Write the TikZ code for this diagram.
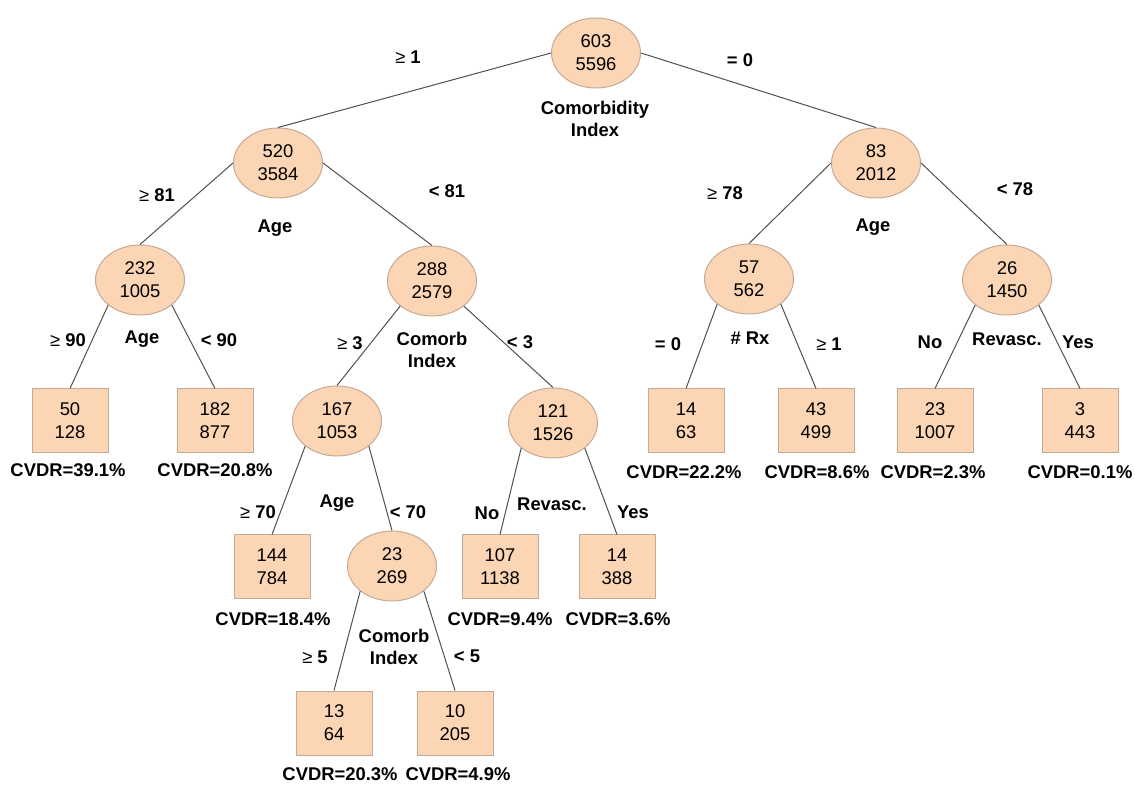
\documentclass[tikz,border=0pt]{standalone}
\usepackage{fontspec}
\setmainfont{Liberation Sans}
\usetikzlibrary{shapes.geometric}
\definecolor{peach}{RGB}{252,213,180}
\definecolor{peachline}{RGB}{196,170,150}
\definecolor{edgegray}{RGB}{80,80,80}
\newcommand{\atleast}{{\mdseries ≥}}
\begin{document}
\begin{tikzpicture}[x=0.5pt,y=-0.5pt,
	split/.style={ellipse, draw=peachline, fill=peach, line width=0.5pt, minimum width=44.5pt, minimum height=35pt, inner sep=0pt, align=center, font=\fontsize{9.2}{11.5}\selectfont},
	leaf/.style={rectangle, draw=peachline, fill=peach, line width=0.5pt, minimum width=38pt, minimum height=32pt, inner sep=0pt, align=center, font=\fontsize{9.2}{11.5}\selectfont},
	lab/.style={inner sep=1pt, align=center, font=\bfseries\fontsize{9.2}{11}\selectfont},
	edge/.style={draw=edgegray, line width=0.5pt}]
	\useasboundingbox (0,0) rectangle (1135,785);
	% root
	\node[split] (n0) at (596,53) {603\\5596};
	\node[lab] (v0) at (595,119) {Comorbidity\\Index};
	\node[lab] (b0l) at (408,57) {\atleast{} 1};
	\node[lab] (b0r) at (740,60) {= 0};
	% level 1
	\node[split] (n1) at (278,163) {520\\3584};
	\node[split] (n2) at (876,163) {83\\2012};
	\node[lab] (v1) at (275,228) {Age};
	\node[lab] (v2) at (873,227) {Age};
	\node[lab] (b1l) at (157,195) {\atleast{} 81};
	\node[lab] (b1r) at (447,191) {< 81};
	\node[lab] (b2l) at (725,193) {\atleast{} 78};
	\node[lab] (b2r) at (1015,189) {< 78};
	% level 2
	\node[split] (n3) at (140,280) {232\\1005};
	\node[split] (n4) at (432,281) {288\\2579};
	\node[split] (n5) at (749,279) {57\\562};
	\node[split] (n6) at (1007,280) {26\\1450};
	\node[lab] (v3) at (142,339) {Age};
	\node[lab] (b3l) at (68,340) {\atleast{} 90};
	\node[lab] (b3r) at (219,340) {< 90};
	\node[lab] (v4) at (432,350) {Comorb\\Index};
	\node[lab] (b4l) at (350,343) {\atleast{} 3};
	\node[lab] (b4r) at (520,342) {< 3};
	\node[lab] (v5) at (750,338) {\# Rx};
	\node[lab] (b5l) at (668,344) {= 0};
	\node[lab] (b5r) at (829,344) {\atleast{} 1};
	\node[lab] (v6) at (1007,339) {Revasc.};
	\node[lab] (b6l) at (930,342) {No};
	\node[lab] (b6r) at (1078,342) {Yes};
	% level 3
	\node[leaf] (t1) at (70,421) {50\\128};
	\node[leaf] (t2) at (215,421) {182\\877};
	\node[split] (n7) at (337,421) {167\\1053};
	\node[split] (n8) at (553,423) {121\\1526};
	\node[leaf] (t3) at (686,421) {14\\63};
	\node[leaf] (t4) at (816,421) {43\\499};
	\node[leaf] (t5) at (935,421) {23\\1007};
	\node[leaf] (t6) at (1080,421) {3\\443};
	\node[lab] (r1) at (68,470) {CVDR=39.1\%};
	\node[lab] (r2) at (215,470) {CVDR=20.8\%};
	\node[lab] (r3) at (684,472) {CVDR=22.2\%};
	\node[lab] (r4) at (817,472) {CVDR=8.6\%};
	\node[lab] (r5) at (933,472) {CVDR=2.3\%};
	\node[lab] (r6) at (1080,472) {CVDR=0.1\%};
	% level 4
	\node[lab] (v7) at (337,503) {Age};
	\node[lab] (b7l) at (258,512) {\atleast{} 70};
	\node[lab] (b7r) at (408,512) {< 70};
	\node[lab] (v8) at (552,504) {Revasc.};
	\node[lab] (b8l) at (487,513) {No};
	\node[lab] (b8r) at (633,512) {Yes};
	\node[leaf] (t7) at (272,567) {144\\784};
	\node[split] (n9) at (392,566) {23\\269};
	\node[leaf] (t8) at (500,567) {107\\1138};
	\node[leaf] (t9) at (617,567) {14\\388};
	\node[lab] (r7) at (273,619) {CVDR=18.4\%};
	\node[lab] (r8) at (500,619) {CVDR=9.4\%};
	\node[lab] (r9) at (618,619) {CVDR=3.6\%};
	% level 5
	\node[lab] (v9) at (394,647) {Comorb\\Index};
	\node[lab] (b9l) at (315,657) {\atleast{} 5};
	\node[lab] (b9r) at (467,656) {< 5};
	\node[leaf] (t10) at (334,723) {13\\64};
	\node[leaf] (t11) at (455,723) {10\\205};
	\node[lab] (r10) at (340,774) {CVDR=20.3\%};
	\node[lab] (r11) at (458,774) {CVDR=4.9\%};
	% edges
	\draw[edge] (n0.west) -- (n1.north);
	\draw[edge] (n0.east) -- (n2.north);
	\draw[edge] (n1.west) -- (n3.north);
	\draw[edge] (n1.east) -- (n4.north);
	\draw[edge] (n2.west) -- (n5.north);
	\draw[edge] (n2.east) -- (n6.north);
	\draw[edge] (n3.south west) -- (t1.north);
	\draw[edge] (n3.south east) -- (t2.north);
	\draw[edge] (n4.south west) -- (n7.north);
	\draw[edge] (n4.south east) -- (n8.north);
	\draw[edge] (n5.south west) -- (t3.north);
	\draw[edge] (n5.south east) -- (t4.north);
	\draw[edge] (n6.south west) -- (t5.north);
	\draw[edge] (n6.south east) -- (t6.north);
	\draw[edge] (n7.south west) -- (t7.north);
	\draw[edge] (n7.south east) -- (n9.north);
	\draw[edge] (n8.south west) -- (t8.north);
	\draw[edge] (n8.south east) -- (t9.north);
	\draw[edge] (n9.south west) -- (t10.north);
	\draw[edge] (n9.south east) -- (t11.north);
\end{tikzpicture}
\end{document}
